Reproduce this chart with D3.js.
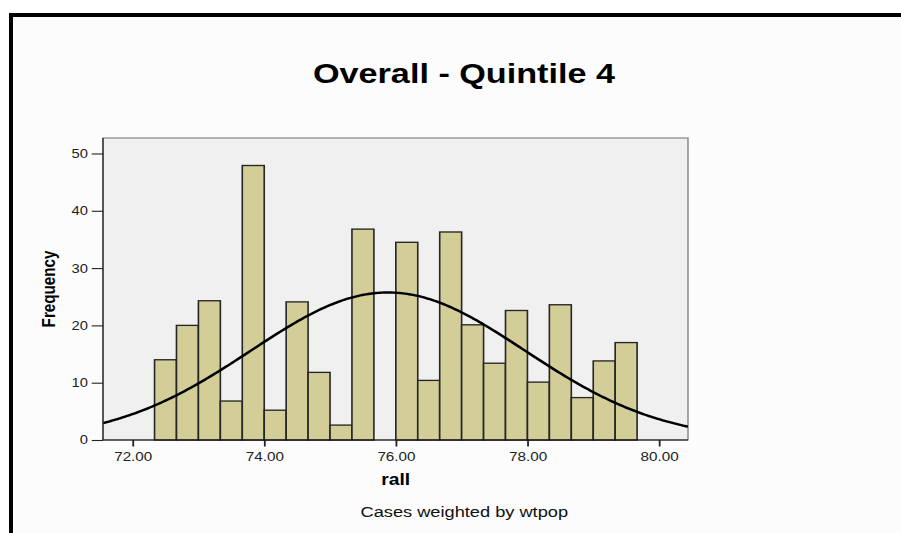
<!DOCTYPE html>
<html>
<head>
<meta charset="utf-8">
<script src="https://cdn.jsdelivr.net/npm/d3@7"></script>
<style>
  html, body { margin: 0; padding: 0; background: #ffffff; }
  svg { display: block; }
</style>
</head>
<body>
<div id="chart"></div>
<script>
// ---------------- data ----------------
const chartTitle = "Overall - Quintile 4";
const xLabel = "rall";
const yLabel = "Frequency";
const footnote = "Cases weighted by wtpop";

// lower edges of the histogram bins (bin width 1/3)
const binLower = [72.3333, 72.6667, 73.0, 73.3333, 73.6667, 74.0, 74.3333, 74.6667,
                  75.0, 75.3333, 75.6667, 76.0, 76.3333, 76.6667, 77.0, 77.3333,
                  77.6667, 78.0, 78.3333, 78.6667, 79.0, 79.3333];
const binWidth = 1 / 3;
// weighted frequencies per bin
const frequencies = [14.0, 20.0, 24.3, 6.8, 47.9, 5.2, 24.1, 11.8,
                     2.6, 36.8, 0, 34.5, 10.4, 36.3, 20.1, 13.4,
                     22.6, 10.1, 23.6, 7.4, 13.8, 17.0];

const xTicks = [72, 74, 76, 78, 80];
const yTicks = [0, 10, 20, 30, 40, 50];
const xExtent = [71.55, 80.44];
const yExtent = [0, 52.7];

// normal curve parameters (as fitted by the original chart)
const curveMean = 75.88;
const curveSD = 2.08;

// ---------------- layout ----------------
const W = 901, H = 533;
const sx = 1.2;                 // the reference is horizontally stretched
const plot = { left: 103, right: 688, top: 138, bottom: 440 };

const svg = d3.select("#chart").append("svg")
  .attr("width", W).attr("height", H);

// page background
svg.append("rect").attr("x", 0).attr("y", 0).attr("width", W).attr("height", H).attr("fill", "#ffffff");
svg.append("rect").attr("x", 9).attr("y", 13).attr("width", W - 9).attr("height", H - 13).attr("fill", "#fcfcfc");
// black frame (top and left)
svg.append("rect").attr("x", 9).attr("y", 13).attr("width", W - 9).attr("height", 4).attr("fill", "#000");
svg.append("rect").attr("x", 9).attr("y", 13).attr("width", 4).attr("height", H - 13).attr("fill", "#000");

const g = svg.append("g").attr("transform", `scale(${sx},1)`);
const X = px => px / sx;

const x = d3.scaleLinear().domain(xExtent).range([X(plot.left), X(plot.right)]);
const y = d3.scaleLinear().domain(yExtent).range([plot.bottom, plot.top]);

// plot area
g.append("rect")
  .attr("x", x(xExtent[0])).attr("y", y(yExtent[1]))
  .attr("width", x(xExtent[1]) - x(xExtent[0]))
  .attr("height", y(yExtent[0]) - y(yExtent[1]))
  .attr("fill", "#f0f0f0")
  .attr("stroke", "#6e6e6e").attr("stroke-width", 1);

const defs = svg.append("defs");
defs.append("clipPath").attr("id", "plotClip")
  .append("rect")
  .attr("x", x(xExtent[0])).attr("y", y(yExtent[1]))
  .attr("width", x(xExtent[1]) - x(xExtent[0]))
  .attr("height", y(yExtent[0]) - y(yExtent[1]));

// bars
const bins = binLower.map((b, i) => ({ x0: b, x1: b + binWidth, f: frequencies[i] }));
g.append("g").selectAll("rect")
  .data(bins.filter(d => d.f > 0))
  .join("rect")
  .attr("x", d => x(d.x0))
  .attr("y", d => y(d.f))
  .attr("width", d => x(d.x1) - x(d.x0))
  .attr("height", d => y(0) - y(d.f))
  .attr("fill", "#d3ce98")
  .attr("stroke", "#262626")
  .attr("stroke-width", 1.35);

// normal curve
const total = d3.sum(frequencies);
const curveFn = v => total * binWidth / (curveSD * Math.sqrt(2 * Math.PI)) *
  Math.exp(-0.5 * Math.pow((v - curveMean) / curveSD, 2));
const curvePts = d3.range(0, 301).map(i => {
  const v = xExtent[0] + (xExtent[1] - xExtent[0]) * i / 300;
  return [v, curveFn(v)];
});
g.append("path")
  .attr("clip-path", "url(#plotClip)")
  .attr("d", d3.line().x(d => x(d[0])).y(d => y(d[1])).curve(d3.curveBasis)(curvePts))
  .attr("fill", "none")
  .attr("stroke", "#000")
  .attr("stroke-width", 2.4);

// axis lines
g.append("line")
  .attr("x1", x(xExtent[0])).attr("x2", x(xExtent[1]))
  .attr("y1", y(0)).attr("y2", y(0))
  .attr("stroke", "#111").attr("stroke-width", 1.2);
g.append("line")
  .attr("x1", x(xExtent[0])).attr("x2", x(xExtent[0]))
  .attr("y1", y(yExtent[0])).attr("y2", y(yExtent[1]))
  .attr("stroke", "#222").attr("stroke-width", 1);

const fontFam = "'Liberation Sans', Arial, Helvetica, sans-serif";

// y axis
const yAxis = g.append("g")
  .attr("transform", `translate(${x(xExtent[0])},0)`)
  .call(d3.axisLeft(y).tickValues(yTicks).tickSize(9.4).tickPadding(3.2).tickFormat(d3.format("d")));
yAxis.select(".domain").remove();
yAxis.selectAll("line").attr("stroke", "#222").attr("stroke-width", 1.1);
yAxis.selectAll("text").attr("font-family", fontFam).attr("font-size", 12.3).attr("fill", "#222");

// x axis
const xAxis = g.append("g")
  .attr("transform", `translate(0,${y(0)})`)
  .call(d3.axisBottom(x).tickValues(xTicks).tickSize(6.5).tickPadding(5.5).tickFormat(d3.format(".2f")));
xAxis.select(".domain").remove();
xAxis.selectAll("line").attr("stroke", "#222").attr("stroke-width", 1.5);
xAxis.selectAll("text").attr("font-family", fontFam).attr("font-size", 12.7).attr("fill", "#222");

// title
g.append("text")
  .attr("x", X(464)).attr("y", 83.3)
  .attr("text-anchor", "middle")
  .attr("font-family", fontFam).attr("font-weight", "bold").attr("font-size", 28.5)
  .attr("fill", "#000")
  .text(chartTitle);

// x label
g.append("text")
  .attr("x", X(395.7)).attr("y", 485)
  .attr("text-anchor", "middle")
  .attr("font-family", fontFam).attr("font-weight", "bold").attr("font-size", 16)
  .attr("fill", "#000")
  .text(xLabel);

// y label
g.append("text")
  .attr("transform", `translate(${X(55)},289) rotate(-90)`)
  .attr("text-anchor", "middle")
  .attr("font-family", fontFam).attr("font-weight", "bold").attr("font-size", 15.2)
  .attr("fill", "#000")
  .text(yLabel);

// footnote
g.append("text")
  .attr("x", X(464.3)).attr("y", 517.3)
  .attr("text-anchor", "middle")
  .attr("font-family", fontFam).attr("font-size", 15.2)
  .attr("fill", "#111")
  .text(footnote);
</script>
</body>
</html>
